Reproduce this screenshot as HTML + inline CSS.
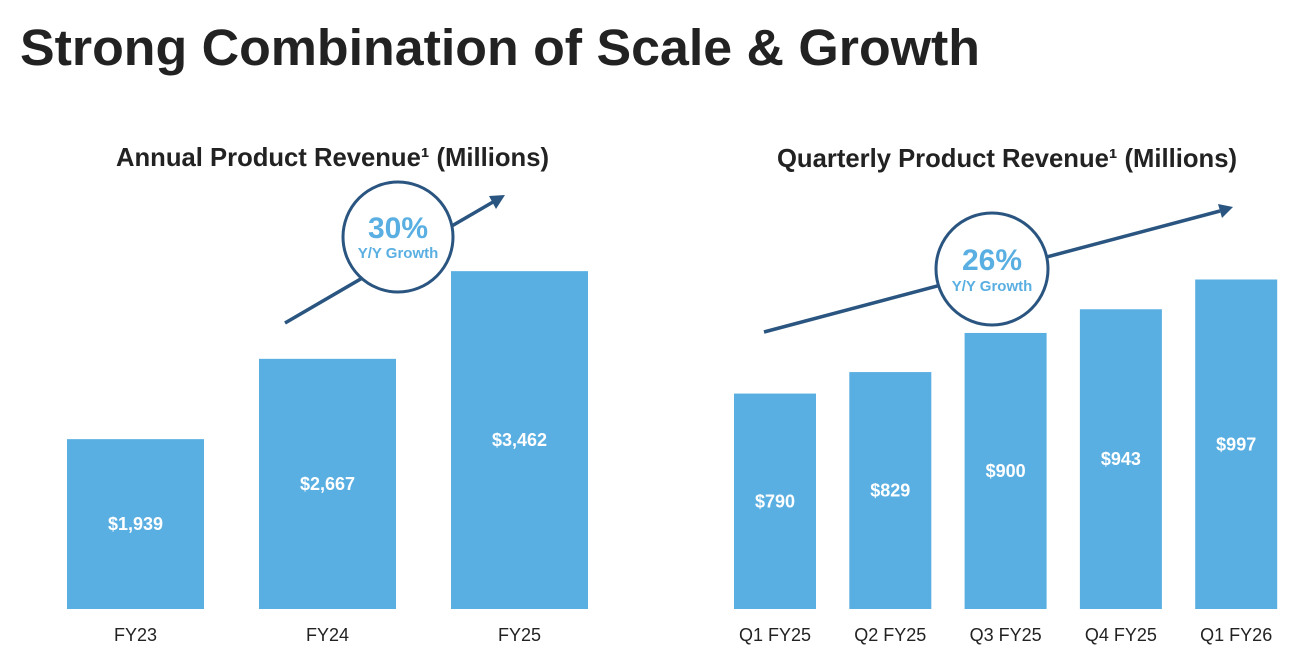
<!DOCTYPE html>
<html><head><meta charset="utf-8"><style>
html,body{margin:0;padding:0;background:#fff;}
svg{display:block;font-family:"Liberation Sans",Arial,sans-serif;}
</style></head><body>
<svg id="c" width="1294" height="660" viewBox="0 0 1294 660">
<text x="20" y="65" font-size="51" font-weight="bold" fill="#222" textLength="960" lengthAdjust="spacingAndGlyphs">Strong Combination of Scale &amp; Growth</text>
<text x="116" y="166" font-size="26" font-weight="bold" fill="#222" textLength="433" lengthAdjust="spacingAndGlyphs">Annual Product Revenue¹ (Millions)</text>
<text x="777" y="167" font-size="26" font-weight="bold" fill="#222" textLength="460" lengthAdjust="spacingAndGlyphs">Quarterly Product Revenue¹ (Millions)</text>
<g id="annual"></g>
<g id="quarterly"></g>
<g>
<line x1="285" y1="323" x2="493" y2="202" stroke="#2a5580" stroke-width="3.5"/>
<polygon points="505,195 489,196 496,209" fill="#2a5580"/>
<circle cx="398" cy="237" r="55" fill="#fff" stroke="#2a5580" stroke-width="3"/>
<text x="398" y="238" font-size="30" font-weight="bold" fill="#5aafe2" text-anchor="middle">30%</text>
<text x="398" y="258" font-size="15" font-weight="bold" fill="#5aafe2" text-anchor="middle">Y/Y Growth</text>
</g>
<g>
<line x1="764" y1="332" x2="1220" y2="211" stroke="#2a5580" stroke-width="3.5"/>
<polygon points="1233,207 1218,204 1222,218" fill="#2a5580"/>
<circle cx="992" cy="269" r="56" fill="#fff" stroke="#2a5580" stroke-width="3"/>
<text x="992" y="270" font-size="30" font-weight="bold" fill="#5aafe2" text-anchor="middle">26%</text>
<text x="992" y="291" font-size="15" font-weight="bold" fill="#5aafe2" text-anchor="middle">Y/Y Growth</text>
</g>
</svg>
<script>
const annualCats=["FY23","FY24","FY25"];
const annualVals=[1939,2667,3462];
const annualLabels=["$1,939","$2,667","$3,462"];
const qCats=["Q1 FY25","Q2 FY25","Q3 FY25","Q4 FY25","Q1 FY26"];
const qVals=[790,829,900,943,997];
const qLabels=["$790","$829","$900","$943","$997"];
const NS="http://www.w3.org/2000/svg";
function draw(gid,cats,vals,labels,x0,step,bw,base,vmin,k){
  const g=document.getElementById(gid);
  const y=v=>base-(v-vmin)*k;
  cats.forEach((c,i)=>{
    const x=x0+i*step, top=y(vals[i]);
    const r=document.createElementNS(NS,"rect");
    
    
    r.setAttribute("x",x);r.setAttribute("y",top);r.setAttribute("width",bw);r.setAttribute("height",base-top);r.setAttribute("fill","#5aafe2");
    g.appendChild(r);
    const t=document.createElementNS(NS,"text");
    
    
    t.setAttribute("x",x+bw/2);t.setAttribute("y",(top+base)/2+6);t.setAttribute("text-anchor","middle");
    t.setAttribute("font-size","18");t.setAttribute("font-weight","bold");t.setAttribute("fill","#fff");
    t.textContent=labels[i];g.appendChild(t);
    const l=document.createElementNS(NS,"text");
    
    
    l.setAttribute("x",x+bw/2);l.setAttribute("y",641);l.setAttribute("text-anchor","middle");
    l.setAttribute("font-size","18");l.setAttribute("fill","#222");
    l.textContent=c;g.appendChild(l);
  });
}
draw("annual",annualCats,annualVals,annualLabels,67,192,137,609,399,0.1103);
draw("quarterly",qCats,qVals,qLabels,734,115.3,82,609,399,0.551);
</script>
</body></html>
